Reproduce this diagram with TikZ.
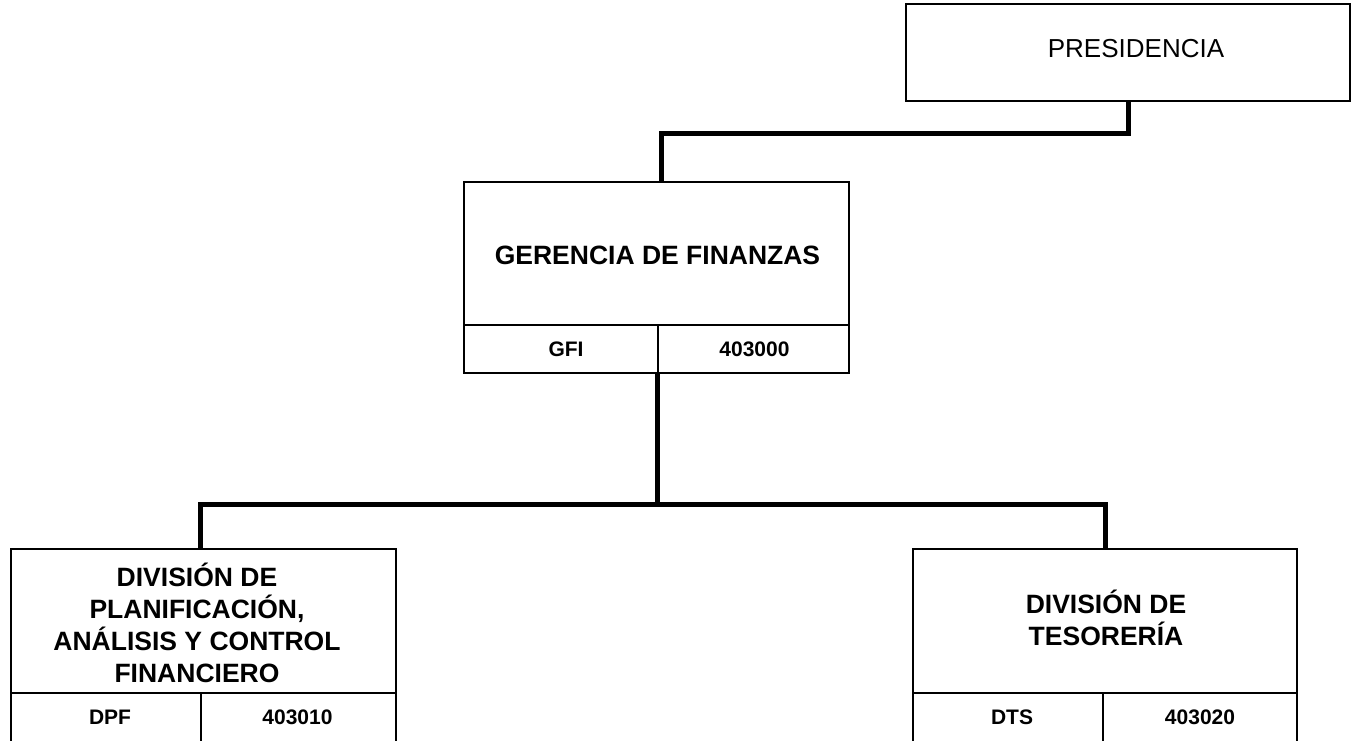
\documentclass[tikz,border=0pt]{standalone}
\usepackage{fontspec}
\setmainfont{Liberation Sans}
\begin{document}
\begin{tikzpicture}[x=1pt,y=-1pt,
  box/.style={draw=black,line width=2.7pt,fill=white,inner sep=0pt},
  conn/.style={draw=black,line width=5pt},
  divline/.style={draw=black,line width=2pt},
  titletext/.style={font=\fontsize{26.5}{32}\selectfont\bfseries,align=center,inner sep=0pt},
  plaintext/.style={font=\fontsize{26}{32}\selectfont,inner sep=0pt},
  celltext/.style={font=\fontsize{21}{25}\selectfont\bfseries,inner sep=0pt}]
\useasboundingbox (0,0) rectangle (1353,740);
\fill[white] (0,0) rectangle (1353,740);
% boxes
\node[box,minimum width=444pt,minimum height=97pt] (pres) at (1128,52.5) {};
\node[box,minimum width=385pt,minimum height=191pt] (gfi) at (656.5,277.5) {};
\node[box,minimum width=385pt,minimum height=194pt] (dpf) at (203.5,646) {};
\node[box,minimum width=384pt,minimum height=194pt] (dts) at (1105,646) {};
% connectors
\coordinate (presdrop) at (1128,133);
\coordinate (gfitop) at (661,181);
\coordinate (bus) at (657,504);
\draw[conn] (pres.south) -- (presdrop) -| (gfitop);
\draw[conn] (657,373) -- (bus);
\draw[conn] (dpf.north -| 200,0) |- (bus) -| (dts.north);
% dividers
\draw[divline] (464,325) -- (849,325);
\draw[divline] (658,325) -- (658,373);
\draw[divline] (11,693) -- (396,693);
\draw[divline] (201,693) -- (201,745);
\draw[divline] (913,693) -- (1297,693);
\draw[divline] (1103,693) -- (1103,745);
% texts
\node[plaintext] (prest) at (1136,49) {PRESIDENCIA};
\node[titletext] (gfit) at (657.5,255) {GERENCIA DE FINANZAS};
\node[celltext] (gfia) at (566,349) {GFI};
\node[celltext] (gfib) at (754.5,349) {403000};
\node[titletext] (dpft) at (197,623) {DIVISIÓN DE\\PLANIFICACIÓN,\\ANÁLISIS Y CONTROL\\FINANCIERO};
\node[celltext] (dpfa) at (110,717) {DPF};
\node[celltext] (dpfb) at (297.5,717) {403010};
\node[titletext] (dtst) at (1106,618) {DIVISIÓN DE\\TESORERÍA};
\node[celltext] (dtsa) at (1012,717) {DTS};
\node[celltext] (dtsb) at (1200,717) {403020};
\end{tikzpicture}
\end{document}
